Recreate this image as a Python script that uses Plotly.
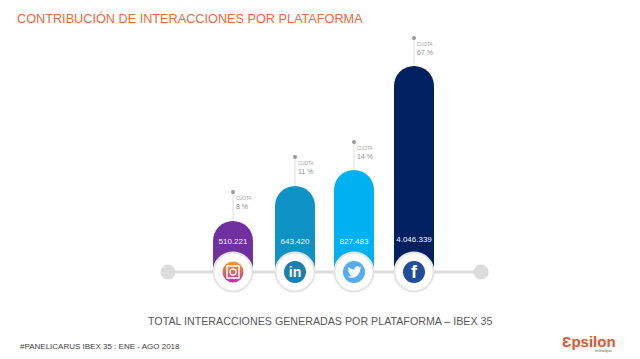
import base64
import plotly.graph_objects as go

platforms = ["Instagram", "LinkedIn", "Twitter", "Facebook"]
interactions = ["510.221", "643.420", "827.483", "4.046.339"]
shares = ["8 %", "11 %", "14 %", "67 %"]
bar_heights = [49, 84, 100, 204]
bar_x = [233, 295, 354, 414]
bar_colors = ["#7030a0", "#0f93c6", "#00b0f0", "#002060"]
stem_heights = [78, 113, 128, 232]
icon_colors = ["#f0a020", "#1b80ad", "#55acee", "#234c9c"]

FONT = "Liberation Sans"
fig = go.Figure()

# timeline
fig.add_trace(go.Scatter(x=[168, 481], y=[-2, -2], mode="lines+markers",
                         line=dict(color="#dcdcdc", width=3),
                         marker=dict(color="#dcdcdc", size=15), hoverinfo="skip"))
# stems
for x, b, h in zip(bar_x, bar_heights, stem_heights):
    fig.add_trace(go.Scatter(x=[x, x], y=[b, h], mode="lines",
                             line=dict(color="#dedede", width=1), hoverinfo="skip"))
fig.add_trace(go.Scatter(x=bar_x, y=stem_heights, mode="markers",
                         marker=dict(color="#9a9a9a", size=4), hoverinfo="skip"))
# bars
fig.add_trace(go.Bar(x=bar_x, y=bar_heights, width=40, marker=dict(color=bar_colors, line_width=0),
                     hoverinfo="skip"))
# values
fig.add_trace(go.Scatter(x=bar_x, y=[28, 28, 28, 30], mode="text", text=interactions,
                         textfont=dict(family=FONT, size=8, color="#f2f2f2"), hoverinfo="skip"))
# shares
fig.add_trace(go.Scatter(x=[x + 3 for x in bar_x], y=[h - 7 for h in stem_heights], mode="text",
                         text=["CUOTA"] * 4, textposition="middle right",
                         textfont=dict(family=FONT, size=4.5, color="#a0a0a0"), hoverinfo="skip"))
fig.add_trace(go.Scatter(x=[x + 3 for x in bar_x], y=[h - 15 for h in stem_heights], mode="text",
                         text=shares, textposition="middle right",
                         textfont=dict(family=FONT, size=7, color="#909090"), hoverinfo="skip"))
# icon discs
fig.add_trace(go.Scatter(x=bar_x, y=[-2] * 4, mode="markers",
                         marker=dict(color="white", size=39, line=dict(color="#e4e4e4", width=2)),
                         hoverinfo="skip"))
fig.add_trace(go.Scatter(x=bar_x[1:], y=[-2] * 3, mode="markers",
                         marker=dict(color=icon_colors[1:], size=22, line_width=0),
                         hoverinfo="skip"))
fig.add_trace(go.Scatter(x=bar_x[:1], y=[-2], mode="markers",
                         marker=dict(color=icon_colors[0], size=21, gradient=dict(type="vertical", color="#c42fa5"),
                                     line_width=0), hoverinfo="skip"))
fig.add_trace(go.Scatter(x=bar_x[:1], y=[-2], mode="markers",
                         marker=dict(symbol="square-open", color="white", size=12, line=dict(color="white", width=1.5)),
                         hoverinfo="skip"))
fig.add_trace(go.Scatter(x=bar_x[:1], y=[-2], mode="markers",
                         marker=dict(symbol="circle-open", color="white", size=6, line=dict(color="white", width=1.3)),
                         hoverinfo="skip"))
fig.add_trace(go.Scatter(x=[bar_x[1], bar_x[3]], y=[-3, -3], mode="text", text=["<b>in</b>", "<b>f</b>"],
                         textfont=dict(family=FONT, size=[14, 18], color="white"), hoverinfo="skip"))

bird = ("M23.953 4.57a10 10 0 01-2.825.775 4.958 4.958 0 002.163-2.723c-.951.555-2.005.959-3.127 1.184"
        "a4.92 4.92 0 00-8.384 4.482C7.69 8.095 4.067 6.13 1.64 3.162a4.822 4.822 0 00-.666 2.475"
        "c0 1.71.87 3.213 2.188 4.096a4.904 4.904 0 01-2.228-.616v.06a4.923 4.923 0 003.946 4.827"
        " 4.996 4.996 0 01-2.212.085 4.936 4.936 0 004.604 3.417 9.867 9.867 0 01-6.102 2.105"
        "c-.39 0-.779-.023-1.17-.067a13.995 13.995 0 007.557 2.209c9.053 0 13.998-7.496 13.998-13.985"
        " 0-.21 0-.42-.015-.63A9.935 9.935 0 0024 4.59z")
svg = f'<svg xmlns="http://www.w3.org/2000/svg" viewBox="0 0 24 24"><path fill="white" d="{bird}"/></svg>'
uri = "data:image/svg+xml;base64," + base64.b64encode(svg.encode()).decode()
fig.add_layout_image(dict(source=uri, xref="x", yref="y", x=bar_x[2] + 0.5, y=-2, sizex=14, sizey=14,
                          xanchor="center", yanchor="middle", layer="above"))

def note(px, py, text, size, color, anchor="left"):
    fig.add_annotation(x=px / 640, y=1 - py / 359, xref="paper", yref="paper", text=text, showarrow=False,
                       xanchor=anchor, yanchor="middle", font=dict(family=FONT, size=size, color=color),
                       borderpad=0, borderwidth=0)

note(17, 18, "CONTRIBUCIÓN DE INTERACCIONES POR PLATAFORMA", 12.7, "#e8693f")
note(148, 321, "TOTAL INTERACCIONES GENERADAS POR PLATAFORMA – IBEX 35", 10.7, "#595959")
note(20, 346, "#PANELICARUS IBEX 35 : ENE - AGO 2018", 8, "#404040")
note(562, 341, "<b>Ɛpsilon</b>", 15, "#e8502a")
note(595, 351, "technologies", 3, "#555555")

fig.update_layout(
    width=640, height=359, margin=dict(l=0, r=0, t=0, b=0),
    paper_bgcolor="white", plot_bgcolor="white", showlegend=False, barcornerradius=20,
    xaxis=dict(range=[0, 640], visible=False, fixedrange=True),
    yaxis=dict(range=[-89, 270], visible=False, fixedrange=True),
)
fig.write_html("out.html", config={"displayModeBar": False},
               post_script="document.body.style.margin='0';document.documentElement.style.overflow='hidden';")
